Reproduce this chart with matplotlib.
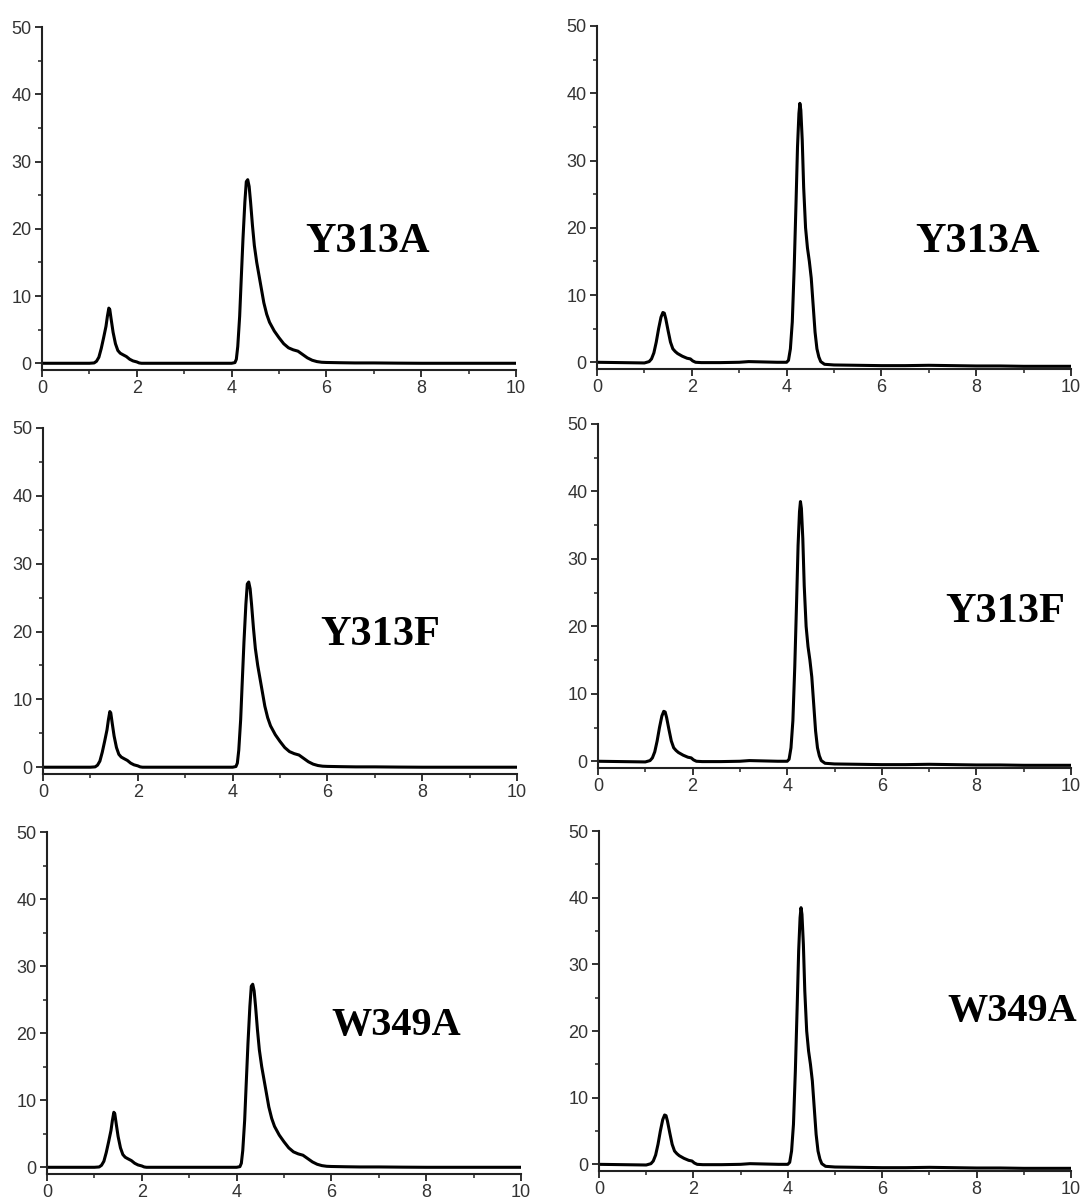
import matplotlib
matplotlib.use("Agg")
import matplotlib.pyplot as plt
from matplotlib.ticker import MultipleLocator

# ---- data ----
# left column chromatogram (same trace in all three rows)
left_x = [0.0, 0.5, 1.0, 1.1, 1.15, 1.2, 1.25, 1.3, 1.35, 1.38, 1.41, 1.43, 1.46, 1.5, 1.55,
          1.6, 1.65, 1.7, 1.78, 1.85, 1.92, 2.0, 2.05, 2.1, 3.0, 4.0, 4.07, 4.1, 4.13, 4.17,
          4.2, 4.24, 4.28, 4.31, 4.34, 4.37, 4.4, 4.44, 4.48, 4.53, 4.58, 4.63, 4.68, 4.74,
          4.8, 4.9, 5.0, 5.1, 5.2, 5.3, 5.4, 5.5, 5.6, 5.7, 5.8, 5.9, 6.0, 6.3, 6.6, 7.0,
          7.5, 8.0, 9.0, 10.0]
left_y = [0.0, 0.0, 0.0, 0.05, 0.3, 0.9, 2.2, 3.8, 5.5, 7.0, 8.2, 8.0, 6.5, 4.6, 2.9,
          1.9, 1.5, 1.3, 1.0, 0.6, 0.35, 0.2, 0.05, 0.0, 0.0, 0.0, 0.1, 0.6, 2.5, 7.0,
          12.0, 18.5, 24.0, 27.0, 27.3, 26.3, 24.0, 20.5, 17.5, 15.0, 13.0, 11.0, 9.0, 7.3,
          6.1, 4.8, 3.8, 2.9, 2.3, 2.0, 1.8, 1.3, 0.8, 0.45, 0.25, 0.15, 0.12, 0.08, 0.05, 0.05,
          0.02, 0.0, 0.0, 0.0]

# right column chromatogram (same trace in all three rows)
right_x = [0.0, 0.5, 1.0, 1.1, 1.15, 1.2, 1.25, 1.3, 1.35, 1.39, 1.42, 1.45, 1.5, 1.55,
           1.6, 1.65, 1.7, 1.8, 1.9, 1.97, 2.02, 2.08, 2.2, 2.6, 3.0, 3.2, 3.5, 3.8, 4.0,
           4.04, 4.08, 4.12, 4.16, 4.2, 4.23, 4.26, 4.28, 4.3, 4.33, 4.36, 4.4, 4.44, 4.48,
           4.52, 4.56, 4.6, 4.64, 4.68, 4.72, 4.8, 5.0, 5.5, 6.0, 6.5, 7.0, 7.5, 8.0, 8.5,
           9.0, 9.5, 10.0]
right_y = [0.0, -0.05, -0.1, 0.1, 0.5, 1.4, 3.0, 5.0, 6.7, 7.4, 7.3, 6.5, 4.7, 3.0,
           2.0, 1.6, 1.3, 0.9, 0.6, 0.5, 0.2, 0.0, -0.05, -0.05, 0.0, 0.1, 0.05, 0.0, 0.0,
           0.3, 2.0, 6.0, 14.0, 24.0, 32.0, 37.0, 38.5, 37.5, 33.0, 26.0, 20.0, 17.0, 15.0,
           12.5, 8.5, 4.5, 2.0, 0.8, 0.1, -0.3, -0.4, -0.45, -0.5, -0.5, -0.45, -0.5, -0.55, -0.55,
           -0.6, -0.6, -0.6]

row_labels = ["Y313A", "Y313F", "W349A"]
x_ticks = [0, 2, 4, 6, 8, 10]
y_ticks = [0, 10, 20, 30, 40, 50]

# ---- layout (pixel geometry of the reference) ----
W, H = 1088, 1200
# (x of x=0, x of x=10, y of top (50), y of bottom spine)
panels = [
    [(42, 516, 27, 370), (597, 1071, 26, 369)],
    [(43, 517, 428, 774), (598, 1071, 424, 768)],
    [(47, 521, 832, 1174), (599, 1071, 831, 1171)],
]
label_pos = [
    [(368, 242), (978, 242)],
    [(380, 635), (1005, 612)],
    [(396, 1025), (1012, 1012)],
]
label_sizes = [30.5, 30.5, 29]

fig = plt.figure(figsize=(W / 100, H / 100), dpi=100)
fig.patch.set_facecolor("white")

for r in range(3):
    for c in range(2):
        x0, x1, ytop, ybot = panels[r][c]
        ax = fig.add_axes([x0 / W, 1 - ybot / H, (x1 - x0) / W, (ybot - ytop) / H])
        xs, ys = (left_x, left_y) if c == 0 else (right_x, right_y)
        ax.plot(xs, ys, color="black", lw=2.2, solid_joinstyle="round")
        ax.set_xlim(0, 10)
        ax.set_ylim(-1, 50)
        ax.set_xticks(x_ticks)
        ax.set_yticks(y_ticks)
        ax.xaxis.set_minor_locator(MultipleLocator(1))
        ax.yaxis.set_minor_locator(MultipleLocator(5))
        for s in ["top", "right"]:
            ax.spines[s].set_visible(False)
        for s in ["left", "bottom"]:
            ax.spines[s].set_linewidth(1.5)
            ax.spines[s].set_color("#222222")
        ax.tick_params(which="major", direction="out", length=5, width=1.3,
                       colors="#222222", labelsize=13, labelcolor="#333333", pad=2.5)
        ax.tick_params(which="minor", direction="out", length=3, width=1.1, colors="#222222")
        for lab in ax.get_xticklabels() + ax.get_yticklabels():
            lab.set_fontfamily("Liberation Sans")
        ax.patch.set_alpha(0)
        lx, ly = label_pos[r][c]
        fig.text(lx / W, 1 - ly / H, row_labels[r], ha="center", va="center",
                 fontsize=label_sizes[r], fontweight="bold", family="Liberation Serif",
                 color="black")

fig.savefig("out.png", dpi=100, facecolor="white")
